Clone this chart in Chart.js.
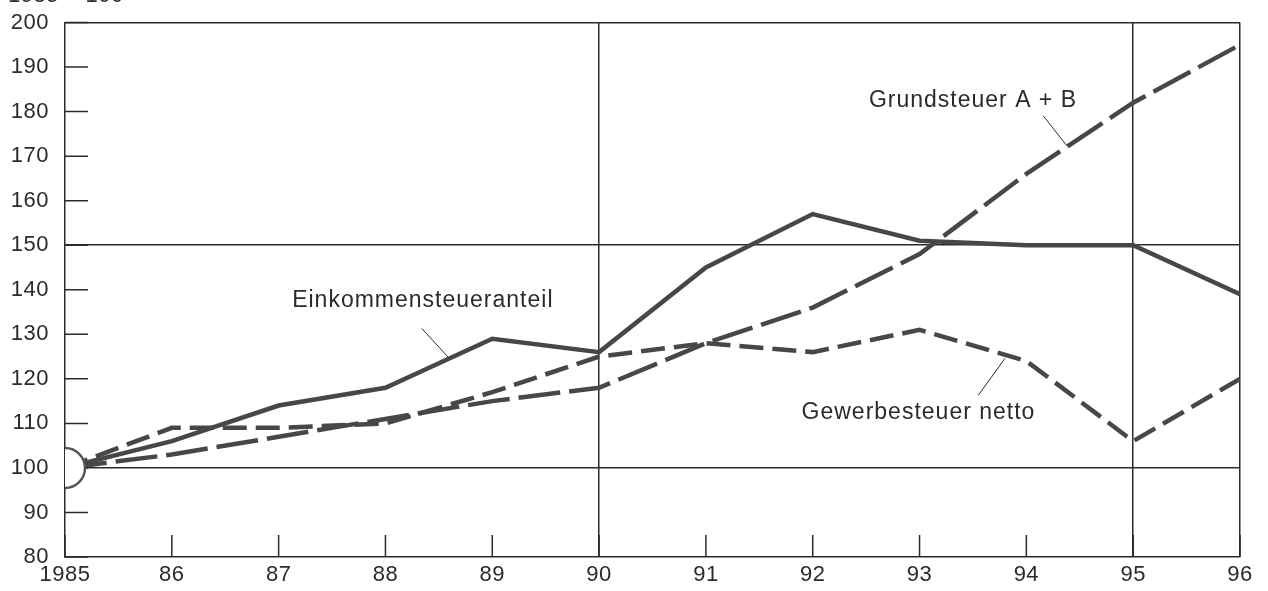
<!DOCTYPE html>
<html>
<head>
<meta charset="utf-8">
<script src="https://cdn.jsdelivr.net/npm/chart.js@4.4.1/dist/chart.umd.min.js"></script>
<style>
  html, body { margin: 0; padding: 0; background: #fff; }
  #wrap { width: 1268px; height: 591px; }
</style>
</head>
<body>
<div id="wrap"><canvas id="chart"></canvas></div>
<script>
// values, 1985 = 100
const years = [1985, 1986, 1987, 1988, 1989, 1990, 1991, 1992, 1993, 1994, 1995, 1996];
const yearLabels = ['1985', '86', '87', '88', '89', '90', '91', '92', '93', '94', '95', '96'];
const einkommen = [100, 106, 114, 118, 129, 126, 145, 157, 151, 150, 150, 139];
const grundsteuer = [100, 103, 107, 111, 115, 118, 128, 136, 148, 166, 182, 195];
const gewerbe = [100, 109, 109, 110, 117, 125, 128, 126, 131, 124, 106, 120];
const gridYears = [1990, 1995, 1996];
const gridValues = [100, 150, 200];

// labels with leader lines, in data units
const notes = [
  { text: 'Einkommensteueranteil', x: 1988.35, y: 137.6, line: [[1988.34, 131.3], [1988.59, 124.8]] },
  { text: 'Gewerbesteuer netto', x: 1992.99, y: 112.5, line: [[1993.55, 116.3], [1993.80, 124.6]] },
  { text: 'Grundsteuer A + B', x: 1993.50, y: 182.4, line: [[1994.16, 179.0], [1994.38, 172.3]] }
];

const ink = '#2b2b2b';
const lineColor = '#474747';
const family = '"Liberation Sans", Arial, sans-serif';
const tickFont = { family: family, size: 22 };

const toPoints = (vals) => vals.map((v, i) => ({ x: years[i], y: v }));

const decor = {
  id: 'decor',
  beforeDraw(chart) {
    chart.ctx.letterSpacing = '0.5px';
  },
  beforeDatasetsDraw(chart) {
    const { ctx, chartArea, scales } = chart;
    ctx.save();
    ctx.strokeStyle = ink;
    ctx.lineWidth = 1.5;
    ctx.beginPath();
    for (let v = 80; v <= 200; v += 10) {
      const y = scales.y.getPixelForValue(v);
      ctx.moveTo(chartArea.left, y);
      ctx.lineTo(chartArea.left + 23, y);
    }
    years.forEach(yr => {
      const x = scales.x.getPixelForValue(yr);
      ctx.moveTo(x, chartArea.bottom);
      ctx.lineTo(x, chartArea.bottom - 22);
    });
    ctx.stroke();
    ctx.restore();
  },
  afterDraw(chart) {
    const { ctx, scales } = chart;
    ctx.save();
    ctx.fillStyle = ink;
    ctx.letterSpacing = '0.5px';
    ctx.font = `22px ${family}`;
    ctx.textAlign = 'left';
    ctx.textBaseline = 'alphabetic';
    ctx.fillText('1985 = 100', 8, 2);
    ctx.letterSpacing = '1px';
    ctx.font = `23px ${family}`;
    ctx.textAlign = 'center';
    ctx.textBaseline = 'middle';
    ctx.strokeStyle = ink;
    ctx.lineWidth = 1;
    notes.forEach(n => {
      ctx.fillText(n.text, scales.x.getPixelForValue(n.x), scales.y.getPixelForValue(n.y));
      ctx.beginPath();
      ctx.moveTo(scales.x.getPixelForValue(n.line[0][0]), scales.y.getPixelForValue(n.line[0][1]));
      ctx.lineTo(scales.x.getPixelForValue(n.line[1][0]), scales.y.getPixelForValue(n.line[1][1]));
      ctx.stroke();
    });
    ctx.restore();
  }
};

new Chart(document.getElementById('chart'), {
  type: 'line',
  data: {
    datasets: [
      {
        label: 'Basis',
        data: [{ x: years[0], y: 100 }],
        showLine: false,
        pointRadius: 20,
        pointBackgroundColor: '#fff',
        pointBorderColor: '#555',
        pointBorderWidth: 2.5,
        clip: 0
      },
      {
        label: 'Einkommensteueranteil',
        data: toPoints(einkommen),
        borderColor: lineColor,
        borderWidth: 4.5,
        pointRadius: 0
      },
      {
        label: 'Grundsteuer A + B',
        data: toPoints(grundsteuer),
        borderColor: lineColor,
        borderWidth: 4.5,
        borderDash: [42, 9],
        pointRadius: 0
      },
      {
        label: 'Gewerbesteuer netto',
        data: toPoints(gewerbe),
        borderColor: lineColor,
        borderWidth: 4.5,
        borderDash: [24, 9],
        pointRadius: 0
      }
    ]
  },
  options: {
    responsive: true,
    maintainAspectRatio: false,
    animation: false,
    layout: { padding: { top: 21, right: 28, left: 0, bottom: 0 } },
    plugins: { legend: { display: false }, tooltip: { enabled: false } },
    scales: {
      x: {
        type: 'linear',
        min: 1985,
        max: 1996,
        afterFit: (s) => { s.height = 34; s.paddingLeft = 0; s.paddingRight = 0; },
        ticks: {
          stepSize: 1,
          autoSkip: false,
          maxRotation: 0,
          padding: 5,
          color: ink,
          font: tickFont,
          callback: (v) => yearLabels[years.indexOf(v)]
        },
        grid: {
          drawTicks: false,
          lineWidth: 1.5,
          color: (c) => gridYears.includes(c.tick && c.tick.value) ? ink : 'rgba(0,0,0,0)'
        },
        border: { display: true, color: ink, width: 1.5 }
      },
      y: {
        min: 80,
        max: 200,
        afterFit: (s) => { s.width = 65; s.paddingTop = 0; s.paddingBottom = 0; },
        ticks: { stepSize: 10, padding: 16, color: ink, font: tickFont },
        grid: {
          drawTicks: false,
          lineWidth: 1.5,
          color: (c) => gridValues.includes(c.tick && c.tick.value) ? ink : 'rgba(0,0,0,0)'
        },
        border: { display: true, color: ink, width: 1.5 }
      }
    }
  },
  plugins: [decor]
});
</script>
</body>
</html>
